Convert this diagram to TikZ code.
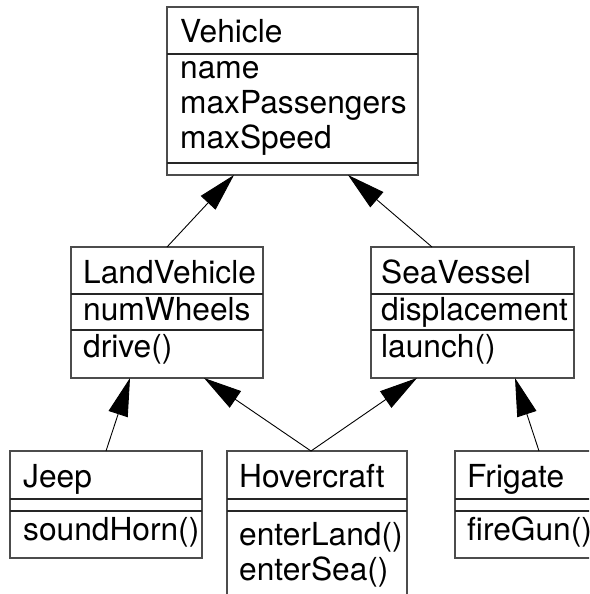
\documentclass[tikz,border=0pt]{standalone}
\usepackage{fontspec}
\setmainfont{TeX Gyre Heros}
\usetikzlibrary{calc,arrows.meta}

\newcommand\umlfont{\fontsize{31.7}{34}\selectfont}
\tikzset{
	cls/.style={draw=black!70, line width=1.3pt, anchor=north west, inner sep=0pt, outer sep=0pt},
	sep/.style={draw=black!85, line width=1.6pt},
	lbl/.style={anchor=base west, inner sep=0pt, font=\umlfont},
	isa/.style={-{Triangle[length=38pt,width=20pt]}, line width=0.9pt}
}

\begin{document}
\begin{tikzpicture}[x=1pt,y=-1pt]
		\useasboundingbox (0,0) rectangle (589,594);
		\clip (0,0) rectangle (589,594);
		
		\node[cls, minimum width=251pt, minimum height=168pt] (vehicle) at (167,7) {};
		\draw[sep] ($(vehicle.north west)+(0,47)$) -- ++(251,0);
		\draw[sep] ($(vehicle.north west)+(0,156)$) -- ++(251,0);
		\node[lbl] (vehicle-title) at ($(vehicle.north west)+(13,36)$) {Vehicle};
		\foreach \attr [count=\i] in {name,maxPassengers,maxSpeed}
			\node[lbl] (vehicle-attr-\i) at ($(vehicle.north west)+(13,36+35*\i)$) {\attr};
		
		\node[cls, minimum width=192pt, minimum height=131pt] (land) at (71,247) {};
		\draw[sep] ($(land.north west)+(0,47)$) -- ++(192,0);
		\draw[sep] ($(land.north west)+(0,83)$) -- ++(192,0);
		\node[lbl] (land-title) at ($(land.north west)+(12,36)$) {LandVehicle};
		\node[lbl] (land-attr) at ($(land.north west)+(12,73)$) {numWheels};
		\node[lbl] (land-op) at ($(land.north west)+(12,110)$) {drive()};
		
		\node[cls, minimum width=203pt, minimum height=131pt] (sea) at (371,247) {};
		\draw[sep] ($(sea.north west)+(0,47)$) -- ++(203,0);
		\draw[sep] ($(sea.north west)+(0,83)$) -- ++(203,0);
		\node[lbl] (sea-title) at ($(sea.north west)+(10,36)$) {SeaVessel};
		\node[lbl] (sea-attr) at ($(sea.north west)+(10,73)$) {displacement};
		\node[lbl] (sea-op) at ($(sea.north west)+(10,110)$) {launch()};
		
		\node[cls, minimum width=192pt, minimum height=107pt] (jeep) at (10,451) {};
		\draw[sep] ($(jeep.north west)+(0,48)$) -- ++(192,0);
		\draw[sep] ($(jeep.north west)+(0,60)$) -- ++(192,0);
		\node[lbl] (jeep-title) at ($(jeep.north west)+(13,36)$) {Jeep};
		\node[lbl] (jeep-op) at ($(jeep.north west)+(13,89)$) {soundHorn()};
		
		\node[cls, minimum width=180pt, minimum height=150pt] (hover) at (227,451) {};
		\draw[sep] ($(hover.north west)+(0,48)$) -- ++(180,0);
		\draw[sep] ($(hover.north west)+(0,60)$) -- ++(180,0);
		\node[lbl] (hover-title) at ($(hover.north west)+(12,36)$) {Hovercraft};
		\node[lbl] (hover-op-1) at ($(hover.north west)+(12,94)$) {enterLand()};
		\node[lbl] (hover-op-2) at ($(hover.north west)+(12,129)$) {enterSea()};
		
		\node[cls, minimum width=150pt, minimum height=107pt] (frigate) at (455,451) {};
		\draw[sep] ($(frigate.north west)+(0,48)$) -- ++(150,0);
		\draw[sep] ($(frigate.north west)+(0,60)$) -- ++(150,0);
		\node[lbl] (frigate-title) at ($(frigate.north west)+(12,36)$) {Frigate};
		\node[lbl] (frigate-op) at ($(frigate.north west)+(12,89)$) {fireGun()};
		
		\coordinate (hover-top) at ($(hover.north west)+(84,0)$);
		\draw[isa] (land.north) -- ($(vehicle.south west)+(67,0)$);
		\draw[isa] ($(sea.north west)+(61,0)$) -- ($(vehicle.south west)+(181,0)$);
		\draw[isa] (jeep.north) -- ($(land.south west)+(59,0)$);
		\draw[isa] (hover-top) -- ($(land.south west)+(133,0)$);
		\draw[isa] (hover-top) -- ($(sea.south west)+(46,0)$);
		\draw[isa] ($(frigate.north west)+(84,0)$) -- ($(sea.south west)+(144,0)$);
\end{tikzpicture}
\end{document}
